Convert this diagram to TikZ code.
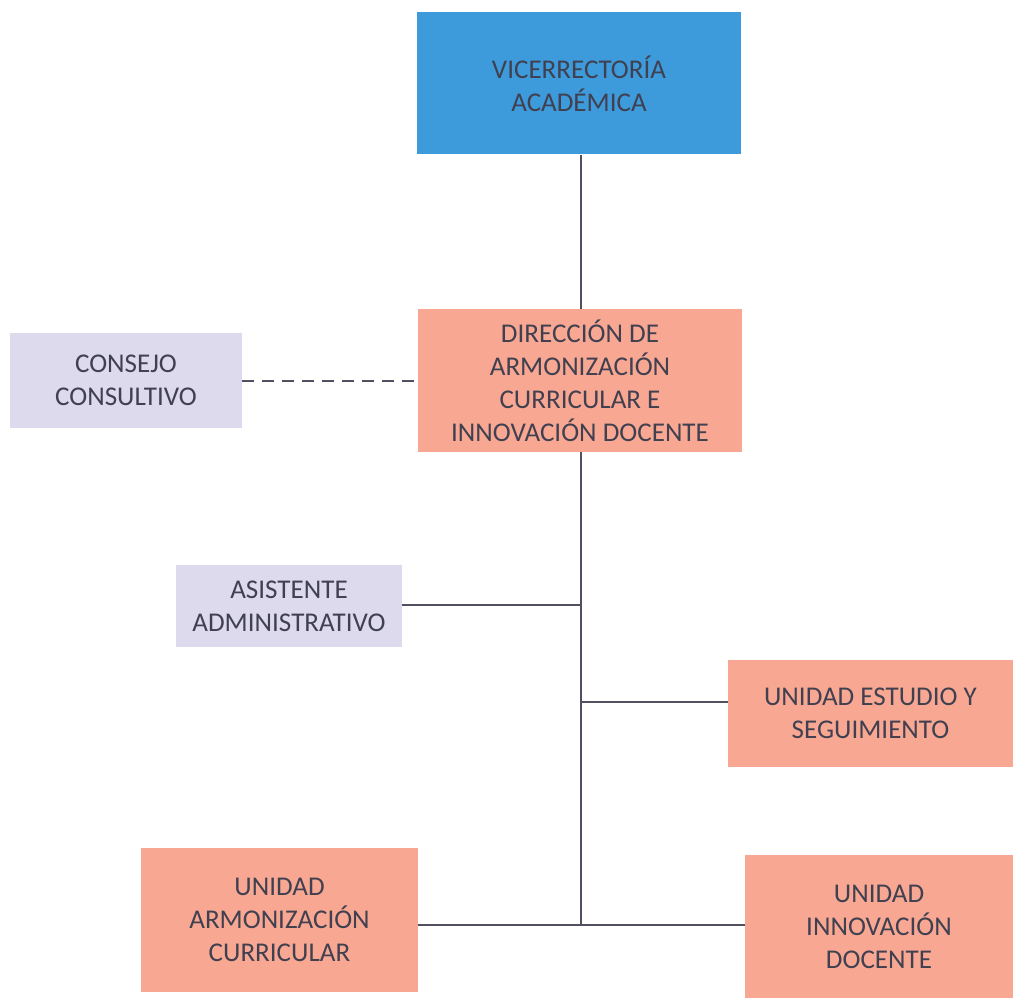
\documentclass[tikz,border=0pt]{standalone}
\usepackage{fontspec}
\setmainfont{Carlito}
\definecolor{bluebox}{RGB}{61,155,220}
\definecolor{salmon}{RGB}{248,168,146}
\definecolor{lavender}{RGB}{220,218,236}
\definecolor{txt}{RGB}{64,64,80}
\definecolor{ln}{RGB}{80,80,96}
\begin{document}
\begin{tikzpicture}[x=0.75pt,y=-0.75pt,
  box/.style={rectangle,inner sep=0pt,align=center,text=txt,
    font=\fontsize{20.3}{24.75}\selectfont},
  conn/.style={draw=ln,line width=1.5pt},
  dconn/.style={conn,dash pattern=on 9pt off 6pt}]
\useasboundingbox (0,0) rectangle (1013,998);
\node[box,fill=bluebox,minimum width=324*0.75pt,minimum height=142*0.75pt] (vic) at (579,83.5) {VICERRECTORÍA\\ACADÉMICA};
\node[box,fill=salmon,minimum width=324*0.75pt,minimum height=143*0.75pt] (dir) at (580,380.5) {DIRECCIÓN DE\\ARMONIZACIÓN\\CURRICULAR E\\INNOVACIÓN DOCENTE};
\node[box,fill=lavender,minimum width=232*0.75pt,minimum height=95*0.75pt] (con) at (126,380.5) {CONSEJO\\CONSULTIVO};
\node[box,fill=lavender,minimum width=226*0.75pt,minimum height=82*0.75pt] (asi) at (289,606) {ASISTENTE\\ADMINISTRATIVO};
\node[box,fill=salmon,minimum width=285*0.75pt,minimum height=107*0.75pt] (est) at (870.5,713.5) {UNIDAD ESTUDIO Y\\SEGUIMIENTO};
\node[box,fill=salmon,minimum width=277*0.75pt,minimum height=144*0.75pt] (arm) at (279.5,920) {UNIDAD\\ARMONIZACIÓN\\CURRICULAR};
\node[box,fill=salmon,minimum width=268*0.75pt,minimum height=143*0.75pt] (inn) at (879,926.5) {UNIDAD\\INNOVACIÓN\\DOCENTE};
\coordinate (j) at (581,925);
\coordinate (ja) at (581,605);
\coordinate (je) at (581,702);
\draw[conn] (vic.south -| j) -- (dir.north -| j);
\draw[conn] (dir.south -| j) -- (j);
\draw[conn] (ja -| asi.east) -- (ja);
\draw[conn] (je) -- (je -| est.west);
\draw[conn] (j -| arm.east) -- (j -| inn.west);
\draw[dconn] (con.east) -- (con.east -| dir.west);
\end{tikzpicture}
\end{document}
